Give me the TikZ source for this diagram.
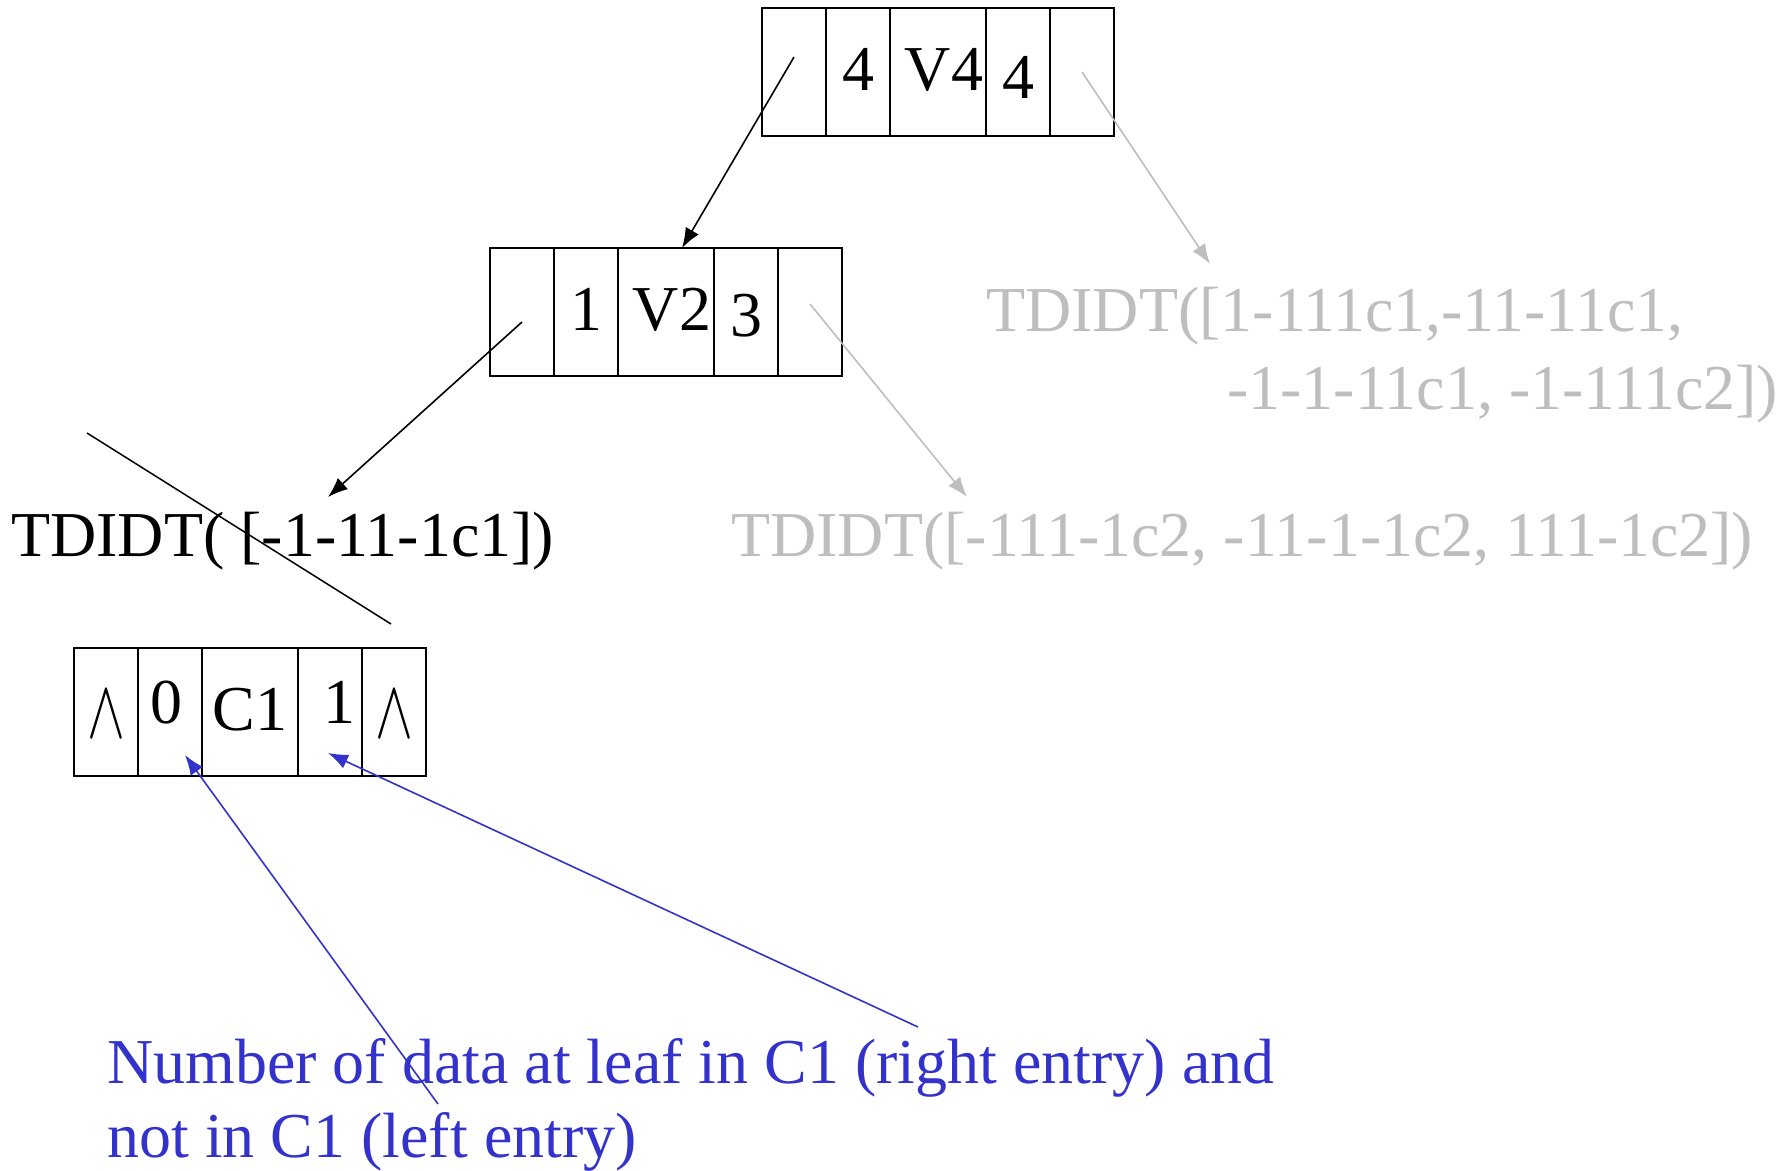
\documentclass[tikz,border=0pt]{standalone}
\usepackage{fontspec}
\setmainfont{Liberation Serif}
\usepackage{tikz}
\usetikzlibrary{calc, positioning, arrows.meta}

\definecolor{subgray}{RGB}{190,190,190}
\definecolor{noteblue}{RGB}{51,51,204}
\newcommand{\bigtxt}{\fontsize{36.4pt}{44pt}\selectfont}
\newcommand{\nilptr}{\raisebox{-1.4mm}{\scalebox{1.3}[1.9]{$\wedge$}}}

\tikzset{
  cell/.style={draw, line width=0.4mm, minimum width=12.8mm, minimum height=25.6mm,
    inner sep=0pt, outer sep=0pt, text height=9mm, text depth=1.8mm, font=\bigtxt},
  widecell/.style={cell, minimum width=19.2mm},
  txt/.style={inner sep=0pt, anchor=base west, font=\bigtxt},
  link/.style={->, line width=0.32mm},
}

\begin{document}
\begin{tikzpicture}[>={Latex[length=4mm,width=3mm]}, x=0.2mm, y=-0.2mm]
    \useasboundingbox (0,0) rectangle (1790,1170);

    % Nút gốc V4
    \node[cell] (a1) at (794,72) {};
    \node[cell, right=0pt of a1] (a2) {4};
    \node[widecell, right=0pt of a2] (a3) {\hspace*{2.4mm}V4};
    \node[cell, right=0pt of a3] (a4) {\raisebox{-1.6mm}{4}};
    \node[cell, right=0pt of a4] (a5) {};

    % Nút V2
    \node[cell] (b1) at (522,312) {};
    \node[cell, right=0pt of b1] (b2) {1};
    \node[widecell, right=0pt of b2] (b3) {\hspace*{2.4mm}V2};
    \node[cell, right=0pt of b3] (b4) {\raisebox{-1.2mm}{3}};
    \node[cell, right=0pt of b4] (b5) {};

    % Lá C1
    \node[cell] (c1) at (106,712) {\nilptr};
    \node[cell, right=0pt of c1] (c2) {\raisebox{1.4mm}{0}\hspace*{1.4mm}};
    \node[widecell, right=0pt of c2] (c3) {C1};
    \node[cell, right=0pt of c3] (c4) {\hspace*{3.6mm}\raisebox{1.4mm}{1}};
    \node[cell, right=0pt of c4] (c5) {\nilptr};

    % Các lời gọi đệ quy
    \node[txt] (tdl) at (11,556) {TDIDT( [-1-11-1c1])};
    \node[txt, subgray] (tdr) at (731,556) {TDIDT([-111-1c2, -11-1-1c2, 111-1c2])};
    \node[txt, subgray] (tdt) at (986,331) {TDIDT([1-111c1,-11-11c1,};
    \node[txt, subgray] (tdu) at (1227,409) {-1-1-11c1, -1-111c2])};
    \draw[line width=0.3mm] (87,433) -- (391,624);

    % Mũi tên
    \draw[link] ([yshift=3mm]a1.center) -- ($(b3.north)+(16,0)$);
    \draw[link] ([yshift=-2mm]b1.center) -- ($(tdl.base west)+(317,-59)$);
    \draw[link, subgray] (a5.center) -- ($(tdt.base west)+(224,-67)$);
    \draw[link, subgray] ([yshift=1.6mm]b5.center) -- ($(tdr.base west)+(236,-59)$);

    % Chú thích
    \node[txt, noteblue] (note1) at (107,1083) {Number of data at leaf in C1 (right entry) and};
    \node[txt, noteblue] (note2) at (107,1157) {not in C1 (left entry)};
    \draw[link, noteblue] ($(note1.base west)+(331,21)$) -- ($(c2.center)+(15,43)$);
    \draw[link, noteblue] ($(note1.base west)+(811,-56)$) -- ($(c4.center)+(-2,41)$);
\end{tikzpicture}
\end{document}
